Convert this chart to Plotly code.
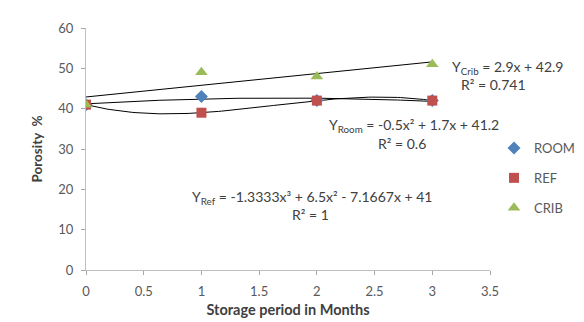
import numpy as np
import plotly.graph_objects as go

months = [0, 1, 2, 3]
room = [41, 43, 42, 42]
ref = [41, 39, 42, 42]
crib = [41, 49, 48, 51]

series = [
    ("ROOM", room, "diamond", "#4F81BD", 2, 10),
    ("REF", ref, "square", "#C0504D", 3, 10),
    ("CRIB", crib, "triangle-up", "#9BBB59", 1, 11),
]

FAM = "Lato, Open Sans, sans-serif"
fig = go.Figure()
xs = np.linspace(0, 3, 121)
for name, vals, sym, col, deg, sz in series:
    coef = np.polyfit(months, vals, deg)
    fig.add_trace(go.Scatter(x=xs, y=np.polyval(coef, xs), mode="lines",
                             line=dict(color="black", width=1), showlegend=False,
                             hoverinfo="skip"))
for name, vals, sym, col, deg, sz in series:
    fig.add_trace(go.Scatter(x=months, y=vals, mode="markers", name=name, legendgroup=name,
                             marker=dict(symbol=sym, color=col, size=sz)))

font = dict(family=FAM, size=14, color="#404040")
ann = [
    (450, 67, "left", "Y<sub>Crib</sub> = 2.9x + 42.9"),
    (493, 84, "center", "R² = 0.741"),
    (414, 125, "center", "Y<sub>Room</sub> = -0.5x² + 1.7x + 41.2"),
    (402, 143, "center", "R² = 0.6"),
    (312, 197, "center", "Y<sub>Ref</sub> = -1.3333x³ + 6.5x² - 7.1667x + 41"),
    (310, 214, "center", "R² = 1"),
]
annotations = []
for px, py, al, txt in ann:
    annotations.append(dict(x=(px - 86) / 404, y=1 - (py - 28) / 242, xref="paper", yref="paper",
                            text=txt, showarrow=False, xanchor=al, yanchor="middle",
                            font=font))

axis_common = dict(showgrid=False, zeroline=False, showline=True, linecolor="#BFBFBF",
                   linewidth=1, ticks="outside", tickcolor="#A6A6A6", ticklen=4,
                   automargin=False,
                   tickfont=dict(family=FAM, size=13, color="#595959"))

fig.update_layout(
    width=584, height=322,
    margin=dict(l=78, r=102, t=20, b=60, autoexpand=False),
    paper_bgcolor="white", plot_bgcolor="white",
    xaxis=dict(range=[0, 3.5], dtick=0.5, ticklabelstandoff=5, **axis_common,
               title=dict(text="<b>Storage period in Months</b>", standoff=7,
                          font=dict(family=FAM, size=14.5, color="#404040"))),
    yaxis=dict(range=[0, 60], dtick=10, ticklabelstandoff=5, **axis_common,
               title=dict(text="<b>Porosity  %</b>", standoff=12,
                          font=dict(family=FAM, size=13.5, color="#404040"))),
    legend=dict(xref="container", yref="container", x=486 / 584, y=1 - 170 / 322,
                xanchor="left", yanchor="middle",
                font=dict(family=FAM, size=13, color="#595959"),
                itemwidth=30, tracegroupgap=10, traceorder="grouped"),
    annotations=annotations,
    showlegend=True,
)
fig.write_html("out.html")
